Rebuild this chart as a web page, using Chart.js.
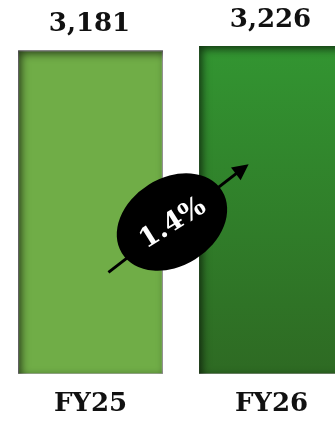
<!DOCTYPE html>
<html>
<head>
<meta charset="utf-8">
<script src="https://cdn.jsdelivr.net/npm/chart.js@4.4.1/dist/chart.umd.min.js"></script>
<style>
  html, body { margin: 0; padding: 0; background: #fff; overflow: hidden; }
  #wrap { position: relative; width: 362px; height: 437px; }
</style>
</head>
<body>
<div id="wrap"><canvas id="salesChart"></canvas></div>
<script>
// Fiscal year totals
const years = ['FY25', 'FY26'];
const totals = [3181, 3226];
const yMax = 3600;

const serif = '"DejaVu Serif", "Liberation Serif", serif';

// Growth from first to second year, shown in the oval
const growthPct = ((totals[1] - totals[0]) / totals[0] * 100).toFixed(1) + '%';

// Dark inner edge on the left and top of every bar
const bevelPlugin = {
  id: 'bevel',
  afterDatasetsDraw(chart) {
    const ctx = chart.ctx;
    chart.getDatasetMeta(0).data.forEach(bar => {
      const w = bar.width;
      const left = bar.x - w / 2;
      const top = bar.y;
      const h = bar.base - bar.y;
      ctx.save();
      ctx.beginPath();
      ctx.rect(left, top, w, h);
      ctx.clip();
      ctx.beginPath();
      ctx.rect(left - 40, top - 40, w + 80, h + 80);
      ctx.rect(left, top, w, h);
      ctx.shadowColor = 'rgba(0,0,0,0.65)';
      ctx.shadowBlur = 9;
      ctx.shadowOffsetX = 3;
      ctx.shadowOffsetY = 3;
      ctx.fillStyle = '#000';
      ctx.fill('evenodd');
      ctx.restore();
    });
  }
};

// Value printed above each bar
const valueLabels = {
  id: 'valueLabels',
  afterDatasetsDraw(chart) {
    const ctx = chart.ctx;
    ctx.save();
    ctx.font = 'bold 26px ' + serif;
    ctx.fillStyle = '#111';
    ctx.textAlign = 'center';
    ctx.textBaseline = 'middle';
    chart.getDatasetMeta(0).data.forEach((bar, i) => {
      ctx.fillText(totals[i].toLocaleString('en-US'), bar.x - 1, bar.y - 26);
    });
    ctx.restore();
  }
};

// Black oval with growth arrow between the bars
const growthBadge = {
  id: 'growthBadge',
  afterDraw(chart) {
    const ctx = chart.ctx;
    const bars = chart.getDatasetMeta(0).data;
    const area = chart.chartArea;
    const cx = bars[0].x + (bars[1].x - bars[0].x) * 0.45;
    const cy = area.top + (area.bottom - area.top) * 0.585;
    const ang = -37 * Math.PI / 180;

    ctx.save();
    ctx.translate(cx, cy);

    // arrow
    ctx.save();
    ctx.rotate(ang);
    ctx.strokeStyle = '#000';
    ctx.lineWidth = 3;
    ctx.beginPath();
    ctx.moveTo(-81, 2);
    ctx.lineTo(82, 0);
    ctx.stroke();
    ctx.fillStyle = '#000';
    ctx.beginPath();
    ctx.moveTo(96, 0);
    ctx.lineTo(80, -8);
    ctx.lineTo(80, 8);
    ctx.closePath();
    ctx.fill();
    ctx.restore();

    // oval
    ctx.beginPath();
    ctx.ellipse(0, 0, 59, 44, -32 * Math.PI / 180, 0, Math.PI * 2);
    ctx.fillStyle = '#000';
    ctx.fill();

    // text
    ctx.rotate(-32 * Math.PI / 180);
    ctx.font = 'bold 27px ' + serif;
    ctx.fillStyle = '#fff';
    ctx.textAlign = 'center';
    ctx.textBaseline = 'middle';
    ctx.fillText(growthPct, 0, 2);
    ctx.restore();
  }
};

const canvas = document.getElementById('salesChart');
new Chart(canvas, {
  type: 'bar',
  data: {
    labels: years,
    datasets: [{
      data: totals,
      backgroundColor(context) {
        if (context.dataIndex === 0) return '#70ad47';
        const area = context.chart.chartArea;
        if (!area) return '#2f8a2f';
        const g = context.chart.ctx.createLinearGradient(0, area.top, 0, area.bottom);
        g.addColorStop(0, '#339a33');
        g.addColorStop(1, '#2e6a23');
        return g;
      },
      borderColor: '#a6a6a6',
      borderWidth: [1, 0],
      borderSkipped: 'bottom',
      categoryPercentage: 1,
      barPercentage: 0.8
    }]
  },
  options: {
    responsive: true,
    maintainAspectRatio: false,
    animation: false,
    layout: { padding: { top: 8, bottom: 2, left: 0, right: 0 } },
    plugins: {
      legend: { display: false },
      tooltip: { enabled: false }
    },
    scales: {
      x: {
        grid: { display: false, drawTicks: false },
        border: { display: false },
        ticks: {
          padding: 15,
          color: '#111',
          font: { family: serif, size: 26, weight: 'bold', lineHeight: 1.2 }
        }
      },
      y: {
        display: false,
        min: 0,
        max: yMax
      }
    }
  },
  plugins: [bevelPlugin, valueLabels, growthBadge]
});
</script>
</body>
</html>
